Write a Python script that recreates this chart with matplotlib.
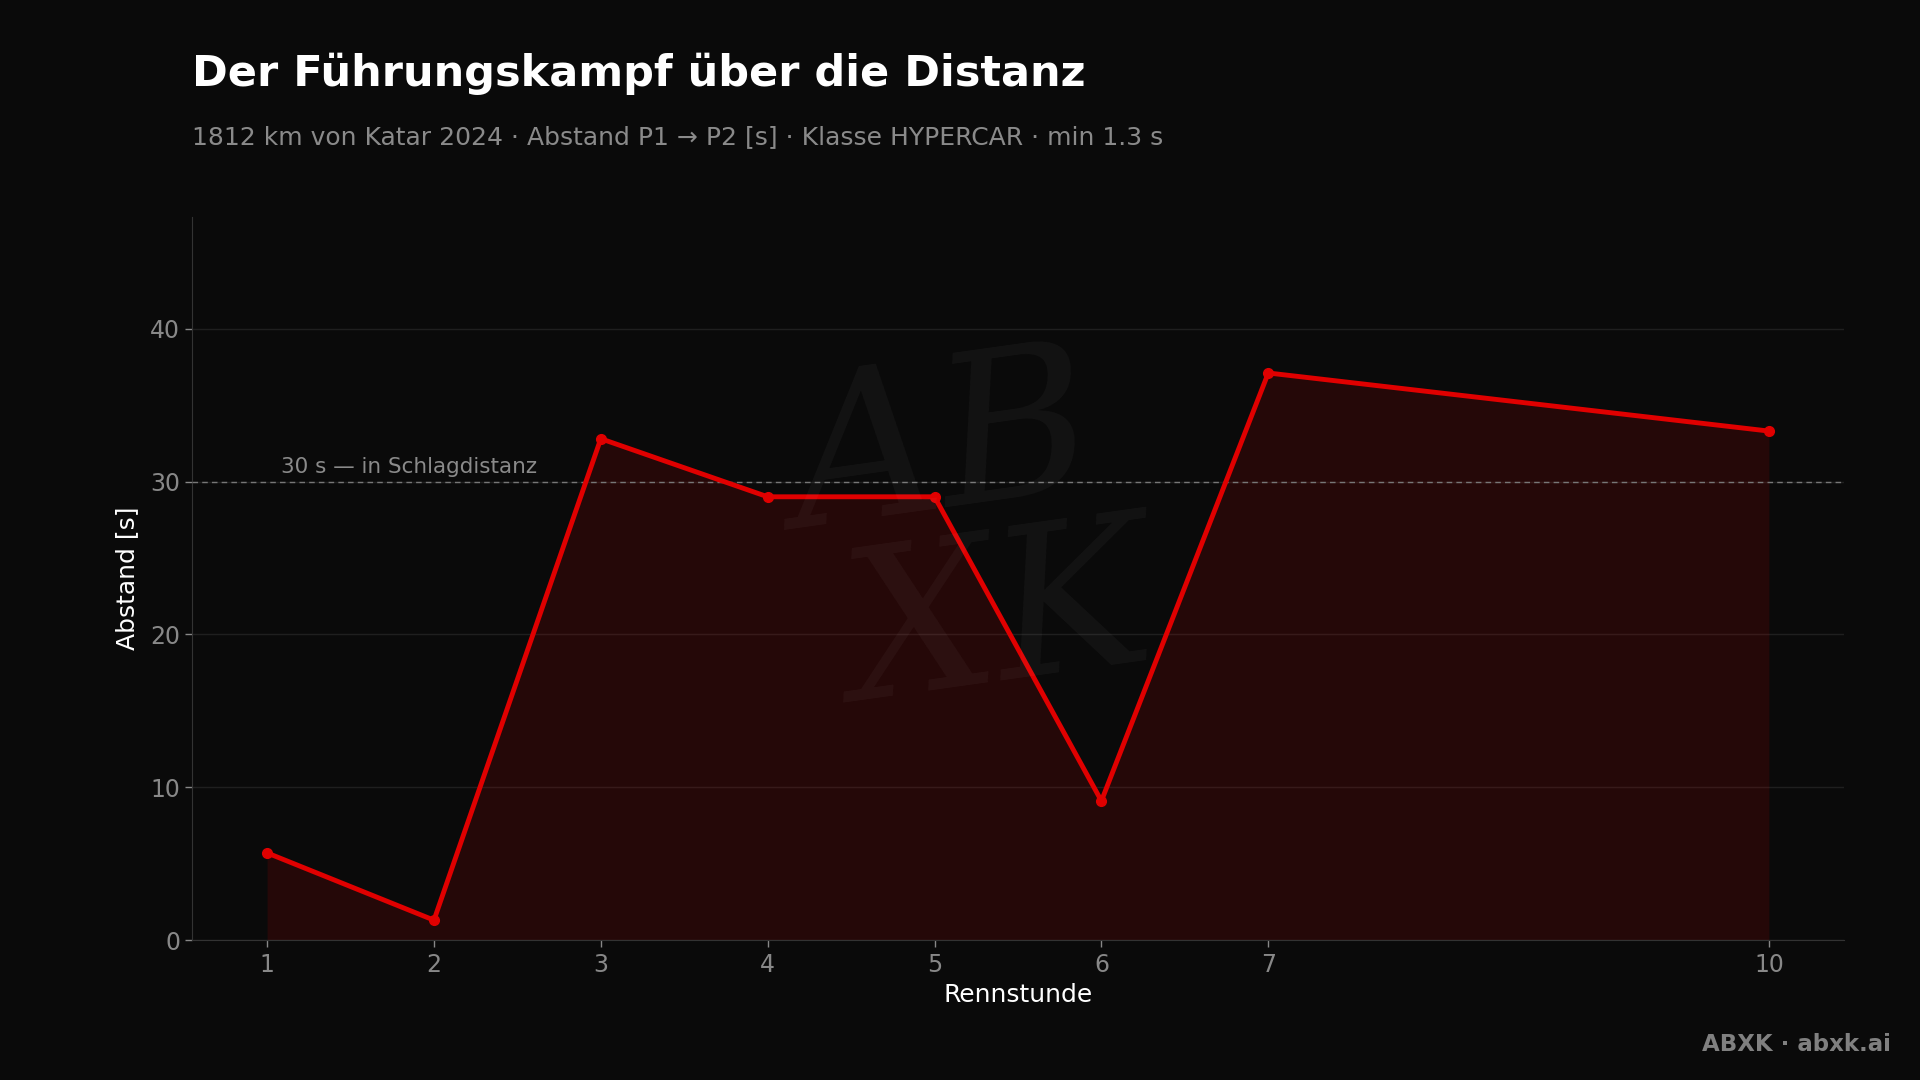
import matplotlib
matplotlib.use("Agg")
import matplotlib.pyplot as plt

# data: gap P1 -> P2 per race hour
hours = [1, 2, 3, 4, 5, 6, 7, 10]
gap = [5.7, 1.3, 32.8, 29.0, 29.0, 9.1, 37.1, 33.3]
threshold = 30
threshold_label = "30 s — in Schlagdistanz"

title = "Der Führungskampf über die Distanz"
subtitle = "1812 km von Katar 2024 · Abstand P1 → P2 [s] · Klasse HYPERCAR · min 1.3 s"

bg = "#0a0a0a"
red = "#e00000"

plt.rcParams['font.family'] = ['DejaVu Sans']

fig = plt.figure(figsize=(19.2, 10.8), dpi=100, facecolor=bg)
ax = fig.add_axes([0.1, 0.1296, 0.8604, 0.6694])
ax.set_facecolor(bg)

# watermark
fig.text(0.497, 0.50, "AB\n XK", fontsize=150, style="italic", family="DejaVu Serif",
         color="white", alpha=0.04, ha="center", va="center", rotation=8,
         linespacing=0.85, zorder=0)

ax.fill_between(hours, gap, 0, color=red, alpha=0.13, linewidth=0, zorder=2)
ax.plot(hours, gap, color=red, lw=3.5, marker="o", markersize=7, zorder=4)

ax.axhline(threshold, color="#777777", lw=1, ls=(0, (4, 3)), zorder=3)
ax.text(0.054, threshold + 0.3, threshold_label, transform=ax.get_yaxis_transform(),
        color="#8a8a8a", fontsize=15.5, ha="left", va="bottom", zorder=5)

ax.set_xlim(0.55, 10.45)
ax.set_ylim(0, 47.3)
ax.set_xticks(hours)
ax.set_yticks([0, 10, 20, 30, 40])
ax.grid(axis="y", color="#1f1f1f", lw=1)
ax.set_axisbelow(True)

for s in ["top", "right"]:
    ax.spines[s].set_visible(False)
for s in ["left", "bottom"]:
    ax.spines[s].set_color("#333333")
ax.tick_params(colors="#888888", labelsize=17, length=5, width=1)
ax.tick_params(axis="x", pad=4)

ax.set_xlabel("Rennstunde", color="white", fontsize=18, labelpad=5)
ax.set_ylabel("Abstand [s]", color="white", fontsize=18, labelpad=8)

fig.text(0.1, 0.932, title, color="white", fontsize=31, fontweight="bold",
         ha="left", va="center")
fig.text(0.1, 0.873, subtitle, color="#8a8a8a", fontsize=18, ha="left", va="center")
fig.text(0.985, 0.033, "ABXK · abxk.ai", color="#808080", fontsize=16.5,
         fontweight="bold", ha="right", va="center")

fig.savefig("out.png", dpi=100, facecolor=bg)
